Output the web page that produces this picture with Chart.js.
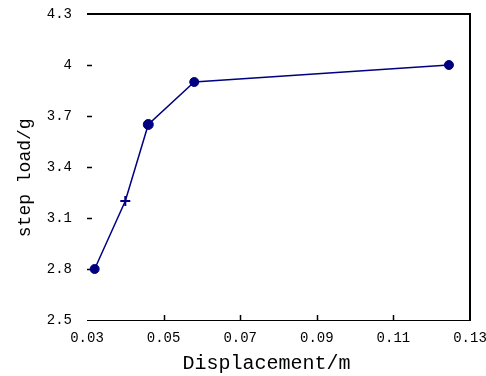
<!DOCTYPE html>
<html>
<head>
<meta charset="utf-8">
<script src="https://cdn.jsdelivr.net/npm/chart.js@4/dist/chart.umd.min.js"></script>
<style>
  body { margin: 0; background: #fff; }
  #wrap { width: 486px; height: 376px; }
</style>
</head>
<body>
<div id="wrap"><canvas id="chart" width="486" height="376"></canvas></div>
<script>
'use strict';
// values
let displacement = [0.032, 0.040, 0.046, 0.058, 0.1245];
let stepLoad = [2.8, 3.2, 3.65, 3.9, 4.0];
let xTickValues = [0.03, 0.05, 0.07, 0.09, 0.11, 0.13];
let yTickValues = [2.5, 2.8, 3.1, 3.4, 3.7, 4.0, 4.3];
// trailing spaces nudge the titles off-centre like the original
let xTitle = 'Displacement/m  ';
let yTitle = 'step load/g  ';

let navy = '#000080';
let points = displacement.map((d, i) => ({ x: d, y: stepLoad[i] }));

// top + right frame lines and the short inside tick marks
const framePlugin = {
  id: 'frame',
  beforeDatasetsDraw(chart) {
    const ctx = chart.ctx;
    const area = chart.chartArea;
    const xs = chart.scales.x;
    const ys = chart.scales.y;
    ctx.save();
    ctx.strokeStyle = '#000';
    ctx.lineWidth = 2;
    ctx.beginPath();
    ctx.moveTo(area.left, area.top);
    ctx.lineTo(area.right, area.top);
    ctx.lineTo(area.right, area.bottom);
    ctx.stroke();
    ctx.lineWidth = 1.5;
    ctx.beginPath();
    yTickValues.slice(1, -1).forEach(v => {
      const y = Math.round(ys.getPixelForValue(v)) + 0.5;
      ctx.moveTo(area.left, y);
      ctx.lineTo(area.left + 5, y);
    });
    xTickValues.slice(1, -1).forEach(v => {
      const x = Math.round(xs.getPixelForValue(v)) + 0.5;
      ctx.moveTo(x, area.bottom);
      ctx.lineTo(x, area.bottom - 5);
    });
    ctx.stroke();
    ctx.restore();
  }
};

let chartObj = document.getElementById('chart').getContext('2d');
let chart = new Chart(chartObj, {
  type: 'scatter',
  data: {
    datasets: [{
      data: points,
      showLine: true,
      borderColor: navy,
      backgroundColor: navy,
      borderWidth: 1.5,
      pointStyle: ['circle', 'cross', 'circle', 'circle', 'circle'],
      pointRadius: [4.5, 5, 5, 4.5, 4.5],
      pointBorderWidth: [1, 2, 1, 1, 1],
      pointBorderColor: navy,
      pointBackgroundColor: navy
    }]
  },
  options: {
    responsive: false,
    animation: false,
    layout: { padding: { left: 0, right: 16, top: 14, bottom: 0 } },
    plugins: {
      legend: { display: false },
      tooltip: { enabled: false }
    },
    scales: {
      x: {
        type: 'linear',
        min: 0.03,
        max: 0.13,
        afterFit: s => { s.height = 56; s.paddingLeft = 0; s.paddingRight = 0; },
        afterBuildTicks: s => { s.ticks = xTickValues.map(v => ({ value: v })); },
        grid: { display: false, drawTicks: false },
        border: { display: true, color: '#000', width: 1 },
        ticks: {
          color: '#000',
          padding: 10,
          maxRotation: 0,
          font: { family: 'Liberation Mono', size: 14 },
          callback: v => v.toFixed(2)
        },
        title: {
          display: true,
          text: xTitle,
          color: '#000',
          padding: { top: 6, bottom: 0 },
          font: { family: 'Liberation Mono', size: 20 }
        }
      },
      y: {
        type: 'linear',
        min: 2.5,
        max: 4.3,
        afterFit: s => { s.width = 87; s.paddingTop = 0; s.paddingBottom = 0; },
        afterBuildTicks: s => { s.ticks = yTickValues.map(v => ({ value: v })); },
        grid: { display: false, drawTicks: false },
        border: { display: false },
        ticks: {
          color: '#000',
          padding: 15,
          font: { family: 'Liberation Mono', size: 14 },
          callback: v => String(Math.round(v * 10) / 10)
        },
        title: {
          display: true,
          text: yTitle,
          color: '#000',
          padding: { top: 14, bottom: 0 },
          font: { family: 'Liberation Mono', size: 18 }
        }
      }
    }
  },
  plugins: [framePlugin]
});
</script>
</body>
</html>
